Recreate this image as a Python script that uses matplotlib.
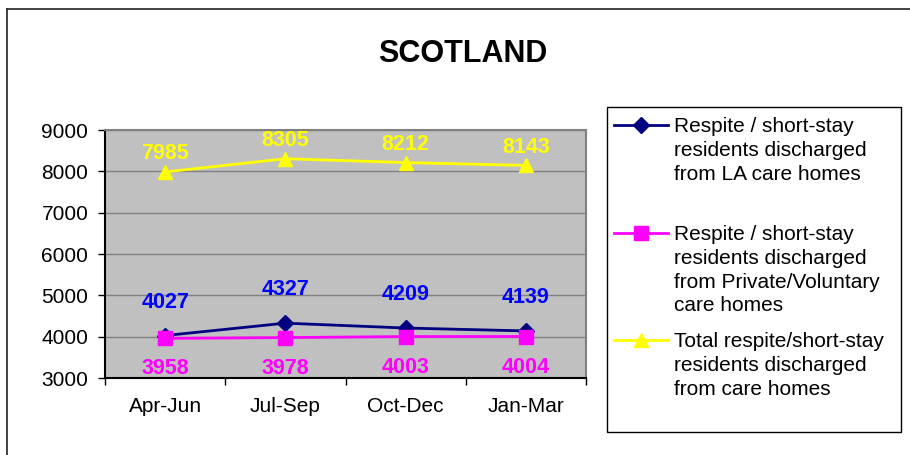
import matplotlib
matplotlib.use('Agg')
import matplotlib.pyplot as plt
from matplotlib.lines import Line2D
from matplotlib.patches import Rectangle

plt.rcParams['font.family'] = ['Liberation Sans', 'DejaVu Sans']

quarters = ['Apr-Jun', 'Jul-Sep', 'Oct-Dec', 'Jan-Mar']
la_homes = [4027, 4327, 4209, 4139]
private_homes = [3958, 3978, 4003, 4004]
total_homes = [7985, 8305, 8212, 8143]

la_label = 'Respite / short-stay\nresidents discharged\nfrom LA care homes'
pv_label = 'Respite / short-stay\nresidents discharged\nfrom Private/Voluntary\ncare homes'
tot_label = 'Total respite/short-stay\nresidents discharged\nfrom care homes'

W, H = 910, 455
fig = plt.figure(figsize=(W / 100, H / 100), dpi=100)

def fx(px):
    return px / W

def fy(py):
    return 1 - py / H

# outer chart border (only top and left visible)
fig.add_artist(Line2D([fx(6.5), fx(6.5)], [fy(9), 0], color='#222222', lw=1.2))
fig.add_artist(Line2D([fx(6.5), 1], [fy(9), fy(9)], color='#222222', lw=1.2))

ax = fig.add_axes([fx(105), fy(378), fx(586) - fx(105), fy(130) - fy(378)])
ax.set_facecolor('#C0C0C0')

x = list(range(len(quarters)))
series = [
    (la_homes, '#000080', 'D', 8, '#0000FF', 24),
    (private_homes, '#FF00FF', 's', 9.5, '#FF00FF', -22),
    (total_homes, '#FFFF00', '^', 10.5, '#FFFF00', 13),
]
for vals, col, mk, ms, lcol, off in series:
    ax.plot(x, vals, color=col, lw=2, marker=mk, ms=ms, mec=col, mfc=col, zorder=3)
    for xi, v in zip(x, vals):
        ax.annotate(str(v), (xi, v), xytext=(0, off), textcoords='offset points',
                    ha='center', va='center', fontsize=15.5, fontweight='bold',
                    color=lcol, annotation_clip=False, zorder=4)

ax.set_xlim(-0.5, 3.5)
ax.set_ylim(3000, 9000)
ax.set_yticks(range(3000, 9001, 1000))
ax.yaxis.grid(True, color='#808080', lw=1)
ax.set_axisbelow(True)

ax.set_xticks([-0.5, 0.5, 1.5, 2.5, 3.5])
ax.set_xticklabels([])
ax.set_xticks(x, minor=True)
ax.set_xticklabels(quarters, minor=True)
ax.tick_params(axis='x', which='major', length=5, width=1, color='black', direction='out')
ax.tick_params(axis='x', which='minor', length=0, pad=14, labelsize=15)
ax.tick_params(axis='y', length=5, width=1, color='black', direction='out', pad=7, labelsize=15)

ax.spines['left'].set_color('black')
ax.spines['bottom'].set_color('black')
ax.spines['top'].set_color('#808080')
ax.spines['right'].set_color('#808080')
for s in ax.spines.values():
    s.set_linewidth(1.5)

fig.text(fx(463), fy(54), 'SCOTLAND', ha='center', va='center', fontsize=22, fontweight='bold')

# legend, drawn by hand to keep the Excel-style fixed spacing
fig.add_artist(Rectangle((fx(607), fy(432)), fx(901) - fx(607), fy(107) - fy(432),
                         fill=False, edgecolor='black', lw=1))
entries = [
    (la_label, '#000080', 'D', 8, 125),
    (pv_label, '#FF00FF', 's', 9.5, 233),
    (tot_label, '#FFFF00', '^', 10.5, 340),
]
for lab, col, mk, ms, yy in entries:
    fig.add_artist(Line2D([fx(614), fx(668)], [fy(yy), fy(yy)], color=col, lw=2))
    fig.add_artist(Line2D([fx(641)], [fy(yy)], color=col, marker=mk, ms=ms, mec=col, mfc=col))
    fig.text(fx(674), fy(yy - 8), lab, ha='left', va='top', fontsize=15, linespacing=1.32)

fig.savefig('out.png', dpi=100)
